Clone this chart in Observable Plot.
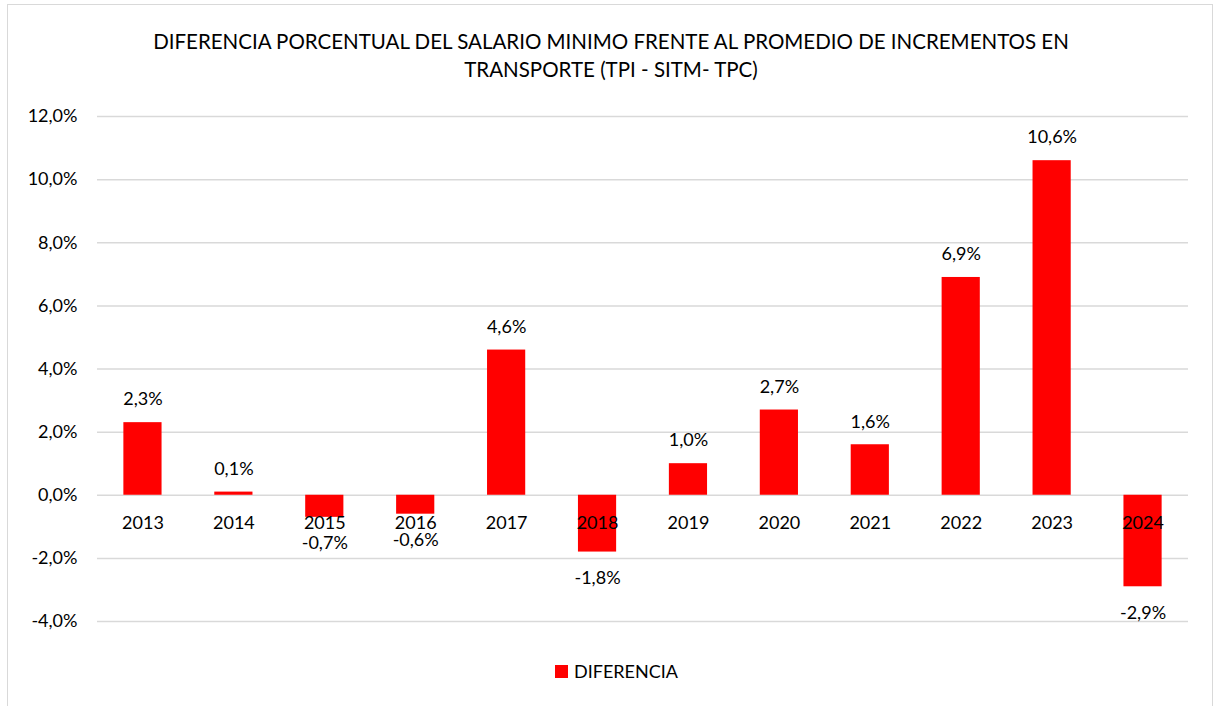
<!DOCTYPE html>
<html>
<head>
<meta charset="utf-8">
<script src="https://cdn.jsdelivr.net/npm/d3@7"></script>
<script src="https://cdn.jsdelivr.net/npm/@observablehq/plot@0.6"></script>
<style>
  html, body { margin: 0; padding: 0; background: #fff; }
  body { width: 1216px; height: 706px; position: relative; overflow: hidden; font-family: Lato, "Open Sans", sans-serif; color: #000; }
  #frame { position: absolute; left: 7px; top: 4px; width: 1206px; height: 710px; border: 1.5px solid #d9d9d9; box-sizing: border-box; }
  #title { position: absolute; left: 7px; top: 27px; width: 1208px; text-align: center; font-size: 20.5px; line-height: 28px; color: #000; }
  #chart { position: absolute; left: 8px; top: 90px; }
  #legend { position: absolute; left: 555px; top: 660px; display: flex; align-items: center; font-size: 18px; color: #000; }
  #legend .sw { width: 13px; height: 13px; background: #ff0000; margin-right: 6px; }
</style>
</head>
<body>
<div id="frame"></div>
<div id="title">DIFERENCIA PORCENTUAL DEL SALARIO MINIMO FRENTE AL PROMEDIO DE INCREMENTOS EN<br>TRANSPORTE (TPI - SITM- TPC)</div>
<div id="chart"></div>
<div id="legend"><span class="sw"></span><span id="legendLabel"></span></div>
<script>
const years = ["2013","2014","2015","2016","2017","2018","2019","2020","2021","2022","2023","2024"];
const values = [2.3, 0.1, -0.7, -0.6, 4.6, -1.8, 1.0, 2.7, 1.6, 6.9, 10.6, -2.9];
const yTicks = [-4, -2, 0, 2, 4, 6, 8, 10, 12];
const seriesName = "DIFERENCIA";

document.getElementById("legendLabel").textContent = seriesName;

const data = years.map((year, i) => ({year, value: values[i]}));
const fmt = v => v.toFixed(1).replace(".", ",") + "%";

const chart = Plot.plot({
  width: 1200,
  height: 560,
  marginLeft: 89,
  marginRight: 20,
  marginTop: 26,
  marginBottom: 29,
  style: {fontFamily: "Lato, 'Open Sans', sans-serif", fontSize: "18px", color: "#000", background: "transparent", overflow: "visible"},
  x: {domain: years, paddingInner: 0.58, paddingOuter: 0.29, round: false, axis: null},
  y: {domain: [-4, 12], axis: null},
  marks: [
    Plot.gridY(yTicks, {stroke: "#d9d9d9", strokeWidth: 1.5, strokeOpacity: 1}),
    Plot.barY(data, {x: "year", y: "value", fill: "#ff0000"}),
    Plot.axisY(yTicks, {tickSize: 0, tickPadding: 20, tickFormat: fmt, fontSize: 18, fill: "#000", label: null}),
    Plot.text(data, {x: "year", y: d => 0, text: "year", dy: 28, fontSize: 18, fill: "#000"}),
    Plot.text(data.filter(d => d.value >= 0), {x: "year", y: "value", text: d => fmt(d.value), dy: -23, fontSize: 18, fill: "#000"}),
    Plot.text(data.filter(d => d.value < 0), {x: "year", y: "value", text: d => fmt(d.value), dy: 26, fontSize: 18, fill: "#000"})
  ]
});
document.getElementById("chart").appendChild(chart);
</script>
</body>
</html>
